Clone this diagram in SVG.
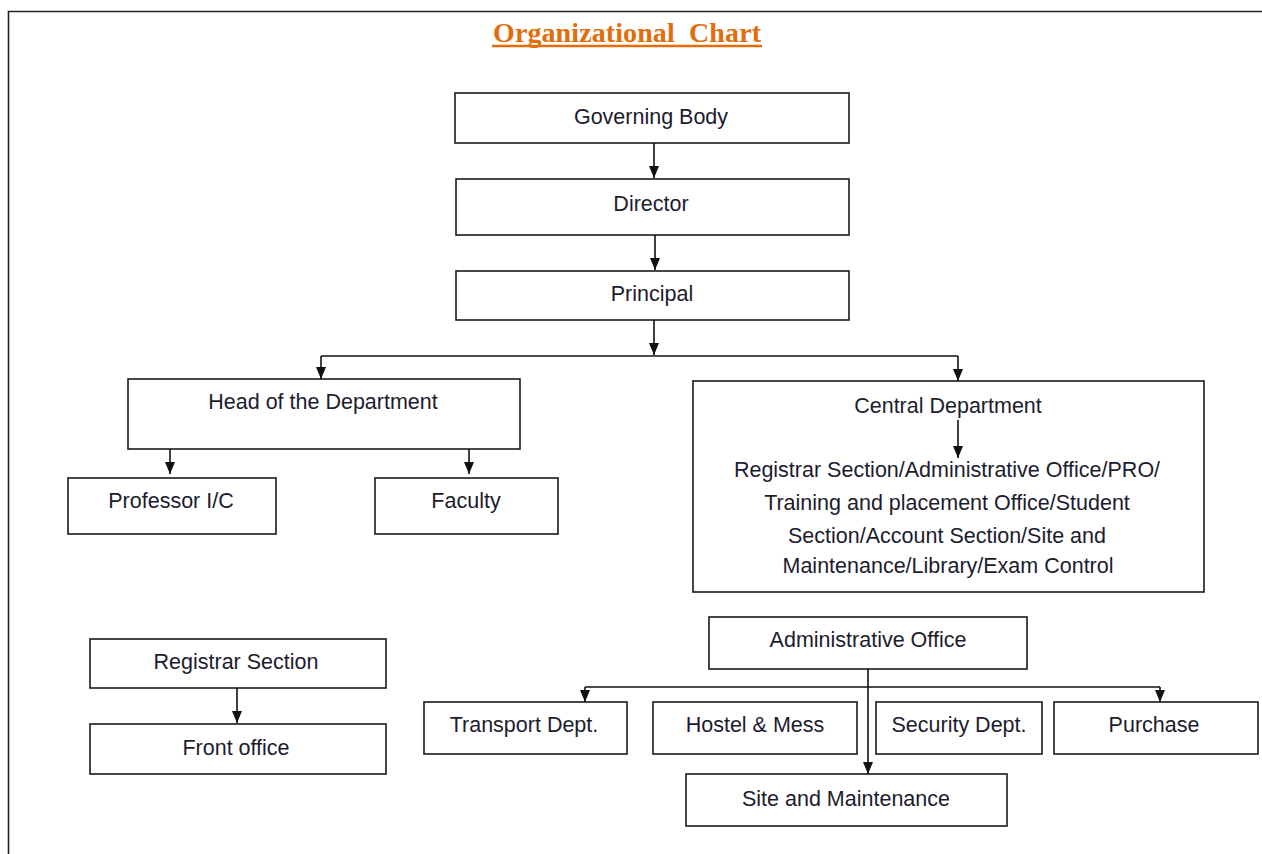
<svg xmlns="http://www.w3.org/2000/svg" width="1262" height="854" viewBox="0 0 1262 854">
<defs>
<style>
.box{fill:#fff;stroke:#1a1a1a;stroke-width:1.6}
.t{font-family:"Liberation Sans",Arial,sans-serif;font-size:21.5px;fill:#1c1c2e;text-anchor:middle;dominant-baseline:central}
.c{fill:none;stroke:#111;stroke-width:1.6}
.title{font-family:"Liberation Serif","Times New Roman",serif;font-weight:bold;font-size:28px;fill:#E46C0A}
</style>
<marker id="ah" viewBox="0 0 12 10" refX="12" refY="5" markerWidth="12" markerHeight="10" markerUnits="userSpaceOnUse" orient="auto">
<path d="M0,0 L12,5 L0,10 Z" fill="#111"/>
</marker>
</defs>
<rect width="1262" height="854" fill="#fff"/>
<path d="M8.5,854 V11.5 H1262" fill="none" stroke="#222" stroke-width="1.6"/>
<g id="title">
<text class="title" x="493" y="42" textLength="268" lengthAdjust="spacing" xml:space="preserve">Organizational  Chart</text>
<line x1="492" y1="46" x2="762" y2="46" stroke="#E46C0A" stroke-width="2.5"/>
</g>
<g id="governing-body"><rect class="box" x="455" y="93" width="394" height="50"/><text class="t" x="651" y="117">Governing Body</text></g>
<g id="director"><rect class="box" x="456" y="179" width="393" height="56"/><text class="t" x="651" y="204">Director</text></g>
<g id="principal"><rect class="box" x="456" y="271" width="393" height="49"/><text class="t" x="652" y="294">Principal</text></g>
<g id="head-of-department"><rect class="box" x="128" y="379" width="392" height="70"/><text class="t" x="323" y="402">Head of the Department</text></g>
<g id="central-department"><rect class="box" x="693" y="381" width="511" height="211"/>
<text class="t" x="948" y="406">Central Department</text>
<text class="t" x="947" y="470">Registrar Section/Administrative Office/PRO/</text>
<text class="t" x="947" y="503">Training and placement Office/Student</text>
<text class="t" x="947" y="536">Section/Account Section/Site and</text>
<text class="t" x="948" y="566">Maintenance/Library/Exam Control</text>
</g>
<g id="professor-ic"><rect class="box" x="68" y="478" width="208" height="56"/><text class="t" x="171" y="501">Professor I/C</text></g>
<g id="faculty"><rect class="box" x="375" y="478" width="183" height="56"/><text class="t" x="466" y="501">Faculty</text></g>
<g id="registrar-section"><rect class="box" x="90" y="639" width="296" height="49"/><text class="t" x="236" y="662">Registrar Section</text></g>
<g id="front-office"><rect class="box" x="90" y="724" width="296" height="50"/><text class="t" x="236" y="748">Front office</text></g>
<g id="administrative-office"><rect class="box" x="709" y="617" width="318" height="52"/><text class="t" x="868" y="640">Administrative Office</text></g>
<g id="transport"><rect class="box" x="424" y="702" width="203" height="52"/><text class="t" x="524" y="725">Transport Dept.</text></g>
<g id="hostel"><rect class="box" x="653" y="702" width="204" height="52"/><text class="t" x="755" y="725">Hostel &amp; Mess</text></g>
<g id="security"><rect class="box" x="876" y="702" width="166" height="52"/><text class="t" x="959" y="725">Security Dept.</text></g>
<g id="purchase"><rect class="box" x="1054" y="702" width="204" height="52"/><text class="t" x="1154" y="725">Purchase</text></g>
<g id="site-maintenance"><rect class="box" x="686" y="774" width="321" height="52"/><text class="t" x="846" y="799">Site and Maintenance</text></g>
<g id="connectors">
<line class="c" x1="654" y1="143" x2="654" y2="178" marker-end="url(#ah)"/>
<line class="c" x1="655" y1="235" x2="655" y2="270" marker-end="url(#ah)"/>
<line class="c" x1="654" y1="320" x2="654" y2="355" marker-end="url(#ah)"/>
<line class="c" x1="321" y1="356" x2="958" y2="356"/>
<line class="c" x1="321" y1="356" x2="321" y2="379" marker-end="url(#ah)"/>
<line class="c" x1="958" y1="356" x2="958" y2="381" marker-end="url(#ah)"/>
<line class="c" x1="170" y1="449" x2="170" y2="474" marker-end="url(#ah)"/>
<line class="c" x1="469" y1="449" x2="469" y2="474" marker-end="url(#ah)"/>
<line class="c" x1="958" y1="420" x2="958" y2="458" marker-end="url(#ah)"/>
<line class="c" x1="237" y1="688" x2="237" y2="723" marker-end="url(#ah)"/>
<line class="c" x1="868" y1="669" x2="868" y2="774" marker-end="url(#ah)"/>
<line class="c" x1="585" y1="687" x2="1160" y2="687"/>
<line class="c" x1="585" y1="687" x2="585" y2="702" marker-end="url(#ah)"/>
<line class="c" x1="1160" y1="687" x2="1160" y2="702" marker-end="url(#ah)"/>
</g>
</svg>
